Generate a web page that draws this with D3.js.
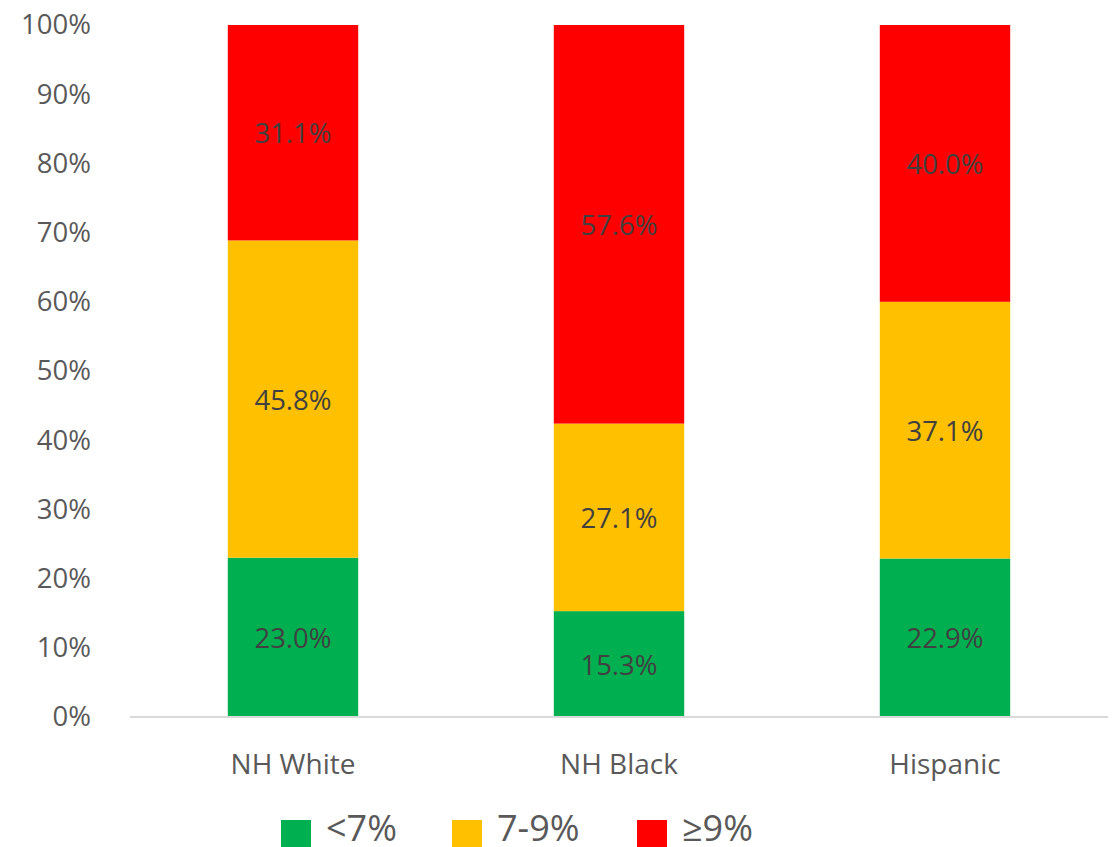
<!DOCTYPE html>
<html><head><meta charset="utf-8">
<script src="https://cdn.jsdelivr.net/npm/d3@7"></script>
<style>body{margin:0;background:#fff}svg{display:block}</style>
</head><body><svg id="c" width="1119" height="847"></svg>
<script>
const categories = ["NH White", "NH Black", "Hispanic"];
const seriesNames = ["<7%", "7-9%", "≥9%"];
const low = [23.0, 15.3, 22.9];
const mid = [45.8, 27.1, 37.1];
const high = [31.1, 57.6, 40.0];
const colors = ["#00B050", "#FFC000", "#FF0000"];
const yTicks = [0,10,20,30,40,50,60,70,80,90,100];

const font = "'Open Sans', 'Noto Sans', sans-serif";
const svg = d3.select("#c");
const x = d3.scaleBand().domain(categories).range([130,1108]).paddingInner(0.6).paddingOuter(0.3);
const y = d3.scaleLinear().domain([0,100]).range([717,25]);

const rows = categories.map((c,i)=>{
  const tot = low[i]+mid[i]+high[i];
  return {cat:c, vals:[low[i],mid[i],high[i]], tot};
});

rows.forEach(r=>{
  let cum = 0;
  r.vals.forEach((v,k)=>{
    const y0 = cum/r.tot*100, y1 = (cum+v)/r.tot*100;
    cum += v;
    svg.append("rect").attr("x",x(r.cat)).attr("width",x.bandwidth())
      .attr("y",y(y1)).attr("height",y(y0)-y(y1)).attr("fill",colors[k]);
    svg.append("text").attr("x",x(r.cat)+x.bandwidth()/2).attr("y",y((y0+y1)/2))
      .attr("text-anchor","middle").attr("dominant-baseline","central")
      .attr("font-family",font).attr("font-size",27.5).attr("fill","#404040")
      .text(v.toFixed(1)+"%");
  });
});

// y axis labels
const yAxis = d3.axisLeft(y).tickValues(yTicks).tickFormat(d=>d+"%").tickSize(0).tickPadding(0);
const ya = svg.append("g").attr("transform","translate(91,0)").call(yAxis);
ya.select(".domain").remove();
ya.selectAll("text").attr("font-family",font).attr("font-size",27.5).attr("fill","#595959");

// x axis
const xAxis = d3.axisBottom(x).tickSize(0).tickPadding(37);
const xa = svg.append("g").attr("transform","translate(0,717)").call(xAxis);
xa.select(".domain").attr("stroke","#D9D9D9").attr("stroke-width",2).attr("d","M130,0H1108");
xa.selectAll("text").attr("font-family",font).attr("font-size",28).attr("fill","#595959");

// legend
const legX = [281, 452, 637];
seriesNames.forEach((s,k)=>{
  svg.append("rect").attr("x",legX[k]).attr("y",820).attr("width",30).attr("height",27).attr("fill",colors[k]);
  svg.append("text").attr("x",legX[k]+45).attr("y",841)
    .attr("font-family",font).attr("font-size",36).attr("fill","#595959").text(s);
});
</script></body></html>
